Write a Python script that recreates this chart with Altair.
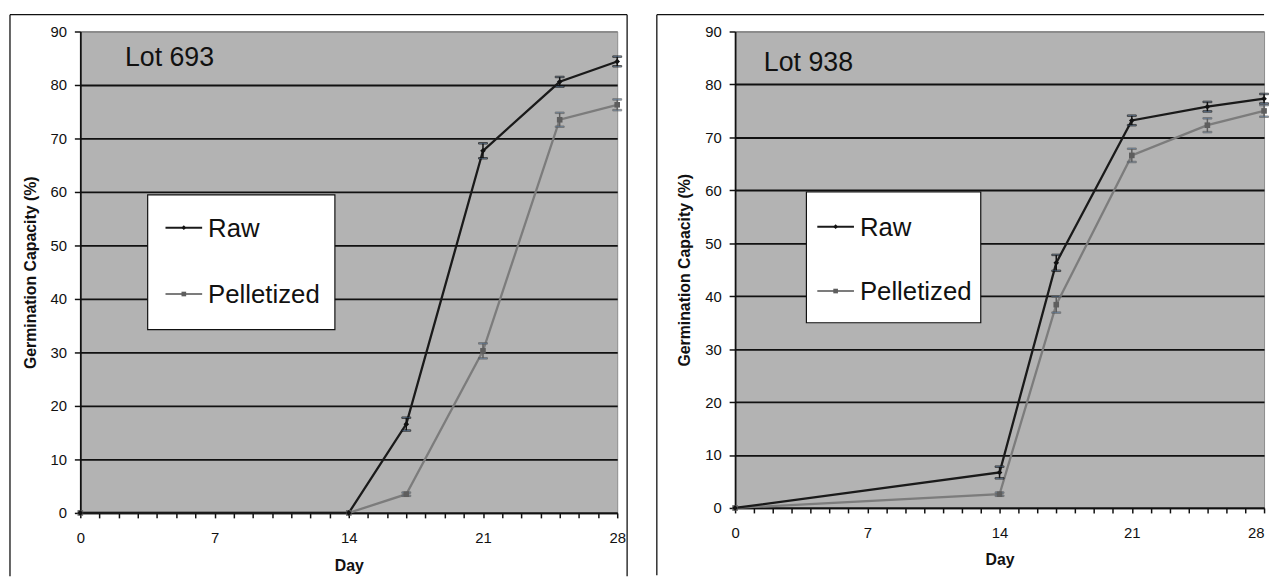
import altair as alt
import pandas as pd

FONT = "Liberation Sans"

DAYS = [0, 14, 17, 21, 25, 28]
SERIES = ["Raw", "Pelletized"]

LOT693_RAW = [0, 0, 16.6, 67.7, 80.6, 84.4]
LOT693_RAW_ERR = [0, 0, 1.2, 1.4, 0.9, 0.9]
LOT693_PEL = [0, 0, 3.5, 30.3, 73.5, 76.3]
LOT693_PEL_ERR = [0, 0, 0.3, 1.4, 1.3, 1.0]

LOT938_RAW = [0, 6.7, 46.3, 73.2, 75.8, 77.3]
LOT938_RAW_ERR = [0, 1.1, 1.5, 0.9, 0.9, 0.9]
LOT938_PEL = [0, 2.6, 38.4, 66.6, 72.3, 75.0]
LOT938_PEL_ERR = [0, 0.3, 1.5, 1.25, 1.3, 1.1]

X_TICKS = list(range(0, 29))
Y_TICKS = list(range(0, 91, 10))

LINE_COLORS = ["#1a1a1a", "#7c7c7c"]
MARK_COLORS = ["#111111", "#5e5e5e"]
SHAPES = ["diamond", "square"]


def make_df(raw, raw_err, pel, pel_err):
    rows = []
    for s, vals, errs in [("Pelletized", pel, pel_err), ("Raw", raw, raw_err)]:
        for d, v, e in zip(DAYS, vals, errs):
            rows.append(dict(day=d, series=s, value=v, err=e, lo=v - e, hi=v + e))
    return pd.DataFrame(rows)


def legend_layers(box, row_ys, lx0, lx1, tx):
    bx0, by0, bx1, by1 = box
    one = alt.Chart(pd.DataFrame({"f": [0]}))
    out = [one.mark_rect(fill="white", stroke="#111", strokeWidth=1.2).encode(
        x=alt.value(bx0), x2=alt.value(bx1), y=alt.value(by0), y2=alt.value(by1))]
    for i, name in enumerate(SERIES):
        ch = alt.Chart(pd.DataFrame({"series": [name]}))
        yy = row_ys[i]
        out.append(ch.mark_rule(color=LINE_COLORS[i], strokeWidth=2).encode(
            x=alt.value(lx0), x2=alt.value(lx1), y=alt.value(yy)))
        out.append(ch.mark_point(shape=SHAPES[i], filled=True, opacity=1, size=22,
                                 color=MARK_COLORS[i]).encode(
            x=alt.value((lx0 + lx1) / 2), y=alt.value(yy)))
        out.append(ch.mark_text(align="left", baseline="middle", fontSize=26, font=FONT,
                                color="#111").encode(
            text="series:N", x=alt.value(tx), y=alt.value(yy + 1)))
    return out


def panel(df, lot, w, h, frame, legend, lot_xy, ytitle_x, xtitle_y, last_label_align):
    xaxis = alt.Axis(
        values=X_TICKS,
        labelExpr="datum.value % 7 === 0 ? datum.label : ''",
        labelAlign={"condition": {"test": "datum.value === 28", "value": last_label_align},
                    "value": "center"},
        grid=False, tickSize=5, tickColor="#111", tickWidth=1.5,
        domainColor="#111", domainWidth=1.8,
        labelFontSize=15, labelPadding=13, labelColor="#111", labelFont=FONT,
        title="Day", titleFontSize=16, titleFontWeight="bold", titleColor="#111",
        titleFont=FONT, titleY=xtitle_y, titleBaseline="alphabetic",
    )
    yaxis = alt.Axis(
        values=Y_TICKS, grid=True,
        gridColor={"condition": {"test": "datum.value === 90", "value": "#8c8c8c"},
                   "value": "#111111"},
        gridWidth=1.8, tickSize=6, tickColor="#111", tickWidth=1.5,
        domainColor="#111", domainWidth=1.8,
        labelFontSize=15, labelPadding=8, labelColor="#111", labelFont=FONT,
        title="Germination Capacity (%)", titleFontSize=16, titleFontWeight="bold",
        titleColor="#111", titleFont=FONT, titleX=ytitle_x, titleY=h / 2,
        titleAngle=270, titleAlign="center", titleBaseline="alphabetic",
    )
    xs = alt.Scale(domain=[0, 28], nice=False, zero=False)
    ys = alt.Scale(domain=[0, 90], nice=False)

    base = alt.Chart(df)
    x_enc = alt.X("day:Q", scale=xs, axis=xaxis)

    def y_enc(field):
        return alt.Y(field, type="quantitative", scale=ys, axis=yaxis)

    line = base.mark_line(strokeWidth=2.3).encode(
        x=x_enc,
        y=y_enc("value"),
        color=alt.Color("series:N", scale=alt.Scale(domain=SERIES, range=LINE_COLORS),
                        legend=None),
    )
    ebase = base.transform_filter("datum.err > 0")
    stroke_enc = alt.Stroke("series:N", scale=alt.Scale(domain=SERIES, range=MARK_COLORS),
                            legend=None)
    err_rule = ebase.mark_rule(strokeWidth=1.5).encode(
        x=x_enc, y=y_enc("lo"), y2="hi:Q", stroke=stroke_enc)
    err_lo = ebase.mark_tick(orient="horizontal", size=9, thickness=1.5).encode(
        x=x_enc, y=y_enc("lo"), stroke=stroke_enc)
    err_hi = ebase.mark_tick(orient="horizontal", size=9, thickness=1.5).encode(
        x=x_enc, y=y_enc("hi"), stroke=stroke_enc)
    points = base.mark_point(filled=True, opacity=1, size=32).encode(
        x=x_enc,
        y=y_enc("value"),
        fill=alt.Fill("series:N", scale=alt.Scale(domain=SERIES, range=MARK_COLORS), legend=None),
        shape=alt.Shape("series:N", scale=alt.Scale(domain=SERIES, range=SHAPES), legend=None),
    )
    lot_txt = alt.Chart(pd.DataFrame({"lot": [lot]})).mark_text(
        align="left", baseline="alphabetic", fontSize=27, font=FONT, color="#111"
    ).encode(text="lot:N", x=alt.value(lot_xy[0]), y=alt.value(lot_xy[1]))

    fr = alt.Chart(pd.DataFrame({"f": [0]}))
    x0, x1, y0, y1, draw_right = frame
    layers = [
        fr.mark_rule(color="#111", strokeWidth=1.3).encode(
            x=alt.value(x0), x2=alt.value(x1), y=alt.value(y0)),
        fr.mark_rule(color="#111", strokeWidth=1.3).encode(
            x=alt.value(x0), y=alt.value(y0), y2=alt.value(y1)),
    ]
    if draw_right:
        layers.append(fr.mark_rule(color="#111", strokeWidth=1.3).encode(
            x=alt.value(x1), y=alt.value(y0), y2=alt.value(y1)))
    layers += [line, err_rule, err_lo, err_hi, points, lot_txt]
    layers += legend_layers(*legend)
    return alt.layer(*layers).properties(width=w, height=h)


left = panel(make_df(LOT693_RAW, LOT693_RAW_ERR, LOT693_PEL, LOT693_PEL_ERR), "Lot 693",
             542, 486, (-71, 552, -17, 550, True),
             ((68, 165, 257, 301), (198, 265), 86, 123, 129), (45, 35), -45, 58, "center")
right = panel(make_df(LOT938_RAW, LOT938_RAW_ERR, LOT938_PEL, LOT938_PEL_ERR), "Lot 938",
              534, 481, (-79, 534, -17, 549, False),
              ((72, 162, 248, 294), (197, 262), 83, 120, 126), (29, 40), -46, 57, "right")

chart = alt.hconcat(left, right, spacing=26).properties(
    padding={"left": 0, "top": 2, "right": 0, "bottom": 0}
).configure(font=FONT).configure_view(fill="#b3b3b3", stroke="#8c8c8c", strokeWidth=1)

chart.save("out.html", embed_options={"renderer": "svg", "actions": False})
